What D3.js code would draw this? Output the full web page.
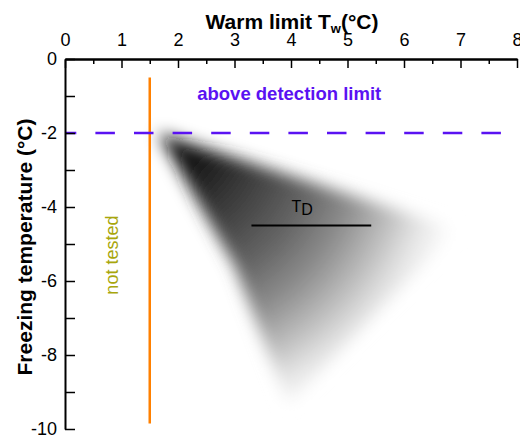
<!DOCTYPE html>
<html>
<head>
<meta charset="utf-8">
<script src="https://cdn.jsdelivr.net/npm/d3@7"></script>
<style>
  body { margin: 0; background: #fff; }
  svg { display: block; font-family: "Liberation Sans", Arial, Helvetica, sans-serif; }
</style>
</head>
<body>
<div id="chart"></div>
<script>
// axis ticks
var xTicks = [0, 1, 2, 3, 4, 5, 6, 7, 8];
var xMinorTicks = [0.5, 1.5, 2.5, 3.5, 4.5, 5.5, 6.5, 7.5];
var yTicks = [0, -1, -2, -3, -4, -5, -6, -7, -8, -9, -10];

// outline of the freezing region (warm limit, freezing temperature)
var regionTw = [1.65, 6.95, 3.95, 3.0];
var regionTf = [-2.0, -4.6, -9.35, -5.6];

// reference lines
var notTestedTw = 1.5;
var notTestedRange = [-0.5, -9.85];
var detectionLimit = -2;
var tdRange = [3.3, 5.42];
var tdLevel = -4.5;

var margin = { top: 59, left: 65 },
    width = 452,
    height = 370;

var svg = d3.select("#chart")
  .append("svg")
  .attr("width", 520)
  .attr("height", 436);

var g = svg.append("g")
  .attr("transform", "translate(" + margin.left + "," + margin.top + ")");

var x = d3.scaleLinear().domain([0, 8]).range([0, width]);
var y = d3.scaleLinear().domain([0, -10]).range([0, height]);

// shaded region: darkest at the apex, fading outwards
var defs = svg.append("defs");
var apex = [x(regionTw[0]), y(regionTf[0])];

var grad = defs.append("radialGradient")
  .attr("id", "fade")
  .attr("gradientUnits", "userSpaceOnUse")
  .attr("cx", apex[0] + 8).attr("cy", apex[1] + 6)
  .attr("fx", apex[0] + 8).attr("fy", apex[1] + 6)
  .attr("r", 300);

[[0, "#0c0c0c"], [0.12, "#161616"], [0.3, "#3c3c3c"], [0.5, "#656565"],
 [0.65, "#8e8e8e"], [0.78, "#bcbcbc"], [0.88, "#e2e2e2"], [1, "#ffffff"]]
  .forEach(function (s) {
    grad.append("stop").attr("offset", s[0]).attr("stop-color", s[1]);
  });

defs.append("filter")
  .attr("id", "soft")
  .attr("x", "-30%").attr("y", "-30%")
  .attr("width", "160%").attr("height", "160%")
  .append("feGaussianBlur")
  .attr("stdDeviation", 8);

var pts = regionTw.map(function (t, i) { return [x(t), y(regionTf[i])]; });

g.append("path")
  .attr("d", d3.line()(pts) + "Z")
  .attr("fill", "url(#fade)")
  .attr("filter", "url(#soft)");

// "not tested" boundary
g.append("line")
  .attr("x1", x(notTestedTw)).attr("x2", x(notTestedTw))
  .attr("y1", y(notTestedRange[0])).attr("y2", y(notTestedRange[1]))
  .attr("stroke", "#ff8000")
  .attr("stroke-width", 2.5);

// detection limit
g.append("line")
  .attr("x1", x(0)).attr("x2", x(8))
  .attr("y1", y(detectionLimit)).attr("y2", y(detectionLimit))
  .attr("stroke", "#5a12f2")
  .attr("stroke-width", 2.5)
  .attr("stroke-dasharray", "19.5,19.1")
  .attr("stroke-dashoffset", 8.2);

g.append("text")
  .attr("x", x(2.34))
  .attr("y", y(-1.11))
  .attr("fill", "#5a12f2")
  .attr("font-weight", "bold")
  .attr("font-size", 18.5)
  .text("above detection limit");

g.append("text")
  .attr("transform", "translate(" + (x(notTestedTw) - 32) + "," + y(-5.3) + ") rotate(-90)")
  .attr("text-anchor", "middle")
  .attr("fill", "#a8a60c")
  .attr("font-size", 18)
  .text("not tested");

// T_D bar
g.append("line")
  .attr("x1", x(tdRange[0])).attr("x2", x(tdRange[1]))
  .attr("y1", y(tdLevel)).attr("y2", y(tdLevel))
  .attr("stroke", "#000")
  .attr("stroke-width", 2);

var td = g.append("text")
  .attr("x", x(4.01))
  .attr("y", y(tdLevel) - 14)
  .attr("font-size", 16)
  .attr("fill", "#000");
td.append("tspan").text("T");
td.append("tspan").attr("dy", 3).text("D");

// axes
g.append("g")
  .call(d3.axisTop(x).tickValues(xTicks).tickSize(-9).tickSizeOuter(0).tickPadding(13)
    .tickFormat(d3.format("d")));

g.append("g")
  .call(d3.axisTop(x).tickValues(xMinorTicks).tickSize(-5).tickSizeOuter(0).tickFormat(""));

g.append("g")
  .call(d3.axisLeft(y).tickValues(yTicks).tickSize(-10).tickSizeOuter(0).tickPadding(8)
    .tickFormat(function (d) { return d % 2 === 0 ? String(d) : ""; }));

g.selectAll(".domain").attr("stroke-width", 2);
g.selectAll(".tick line").attr("stroke-width", 1.5);
g.selectAll(".tick text")
  .attr("font-size", 18)
  .attr("font-family", "Liberation Sans, Arial, sans-serif")
  .attr("fill", "#000");

// axis titles
var xt = svg.append("text")
  .attr("x", 292)
  .attr("y", 29)
  .attr("text-anchor", "middle")
  .attr("font-weight", "bold")
  .attr("font-size", 21);
xt.append("tspan").text("Warm limit T");
xt.append("tspan").attr("font-size", 13).attr("dy", 4).text("w");
xt.append("tspan").attr("dy", -4).text("(°C)");

svg.append("text")
  .attr("transform", "translate(32,247) rotate(-90)")
  .attr("text-anchor", "middle")
  .attr("font-weight", "bold")
  .attr("font-size", 21)
  .text("Freezing temperature (°C)");
</script>
</body>
</html>
